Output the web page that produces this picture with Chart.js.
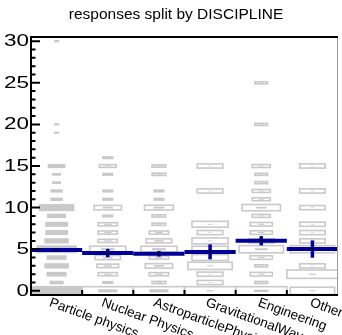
<!DOCTYPE html>
<html><head><meta charset="utf-8">
<script src="https://cdn.jsdelivr.net/npm/chart.js@4/dist/chart.umd.min.js"></script>
<style>html,body{margin:0;padding:0;background:#fff}#c{display:block}</style>
</head><body>
<canvas id="c" width="342" height="335"></canvas>
<script>
// ---- data ----
const disciplines = ["Particle physics", "Nuclear Physics", "AstroparticlePhysics", "GravitationalWaves", "Engineering", "Other"];
// number of responses per answer value 0..30 (index = answer value)
const particlePhysics = [200,12,26,40,26,115,40,34,34,23,87,9,9,4,4,20,0,0,0,1,1,0,0,0,0,0,0,0,0,0,1];
const nuclearPhysics  = [28,1,4,5,7,14,4,4,4,1,8,1,1,0,1,3,1,0,0,0,0,0,0,0,0,0,0,0,0,0,0];
const astroparticle   = [28,2,4,8,4,14,7,4,2,2,9,1,1,0,2,2,0,0,0,0,0,0,0,0,0,0,0,0,0,0,0];
const gravitational   = [4,1,1,3,2,2,2,1,2,0,0,0,1,0,0,1,0,0,0,0,0,0,0,0,0,0,0,0,0,0,0];
const engineering     = [16,1,3,1,3,12,4,3,3,2,9,2,2,1,1,2,0,0,0,0,1,0,0,0,0,1,0,0,0,0,0];
const other           = [3,0,4,1,0,3,1,1,1,0,1,0,1,0,0,1,0,0,0,0,0,0,0,0,0,0,0,0,0,0,0];
const profileMean  = [4.9, 4.54, 4.46, 4.68, 6.02, 5.02];
const profileError = [0.15, 0.5, 0.34, 0.9, 0.56, 1.04];
const yTickValues  = [0, 5, 10, 15, 20, 25, 30];
const chartTitle = "responses split by DISCIPLINE";

const columns = [particlePhysics, nuclearPhysics, astroparticle, gravitational, engineering, other];
const globalMax = Math.max(...columns.map(c => Math.max(...c)));

const GRAY = '#c9c9c9';
const BLUE = '#000099';
const FONT = "'Liberation Sans', Arial, Helvetica, sans-serif";

const boxPlugin = {
  id: 'boxes',
  beforeDatasetsDraw(chart) {
    const {ctx, chartArea: a, scales: {x, y}} = chart;
    const bw = x.width / disciplines.length;
    const bh = Math.abs(y.getPixelForValue(0) - y.getPixelForValue(1));
    ctx.save();
    ctx.beginPath(); ctx.rect(a.left, a.top, a.right - a.left, a.bottom - a.top); ctx.clip();
    columns.forEach((col, c) => {
      const colMax = Math.max(...col);
      const xc = x.getPixelForValue(c);
      col.forEach((n, k) => {
        if (!n) return;
        const yc = y.getPixelForValue(k);
        const fo = Math.sqrt(n / colMax), fi = Math.sqrt(n / globalMax);
        ctx.fillStyle = GRAY;
        ctx.fillRect(xc - fi * bw / 2, yc - fi * bh / 2, fi * bw, fi * bh);
        ctx.strokeStyle = GRAY; ctx.lineWidth = 1.6;
        ctx.strokeRect(xc - fo * bw / 2, yc - fo * bh / 2, fo * bw, fo * bh);
      });
    });
    // profile: mean per discipline with error
    ctx.strokeStyle = BLUE; ctx.lineCap = 'butt';
    profileMean.forEach((m, c) => {
      const xc = x.getPixelForValue(c);
      const ym = y.getPixelForValue(m);
      ctx.lineWidth = 4;
      ctx.beginPath(); ctx.moveTo(xc - bw / 2, ym); ctx.lineTo(xc + bw / 2, ym); ctx.stroke();
      ctx.lineWidth = 3.5;
      ctx.beginPath();
      ctx.moveTo(xc, y.getPixelForValue(m - profileError[c]));
      ctx.lineTo(xc, y.getPixelForValue(m + profileError[c]));
      ctx.stroke();
    });
    ctx.restore();
  },
  afterDraw(chart) {
    const {ctx, chartArea: a, scales: {x, y}} = chart;
    const bw = x.width / disciplines.length;
    ctx.save();
    // frame
    ctx.strokeStyle = '#999'; ctx.lineWidth = 1;
    ctx.beginPath(); ctx.moveTo(a.right - 0.5, a.top); ctx.lineTo(a.right - 0.5, a.bottom); ctx.stroke();
    ctx.strokeStyle = '#000'; ctx.lineWidth = 2;
    ctx.beginPath();
    ctx.moveTo(a.left, a.top); ctx.lineTo(a.right, a.top);
    ctx.moveTo(a.left, a.top - 1); ctx.lineTo(a.left, a.bottom + 1);
    ctx.moveTo(a.left - 1, a.bottom); ctx.lineTo(a.right, a.bottom);
    ctx.stroke();
    // y ticks
    ctx.beginPath();
    for (let v = 0; v <= 30; v++) {
      const py = y.getPixelForValue(v);
      ctx.moveTo(a.left, py); ctx.lineTo(a.left + (v % 5 === 0 ? 9 : 4.5), py);
    }
    // x ticks at bin boundaries
    for (let i = 1; i < disciplines.length; i++) {
      const px = x.getPixelForValue(i) - bw / 2;
      ctx.moveTo(px, a.bottom); ctx.lineTo(px, a.bottom - 5);
    }
    ctx.stroke();
    ctx.fillStyle = '#000';
    // y tick labels (wide glyphs as in the reference)
    ctx.font = '16px ' + FONT;
    ctx.textAlign = 'right'; ctx.textBaseline = 'middle';
    yTickValues.forEach(v => {
      ctx.save();
      ctx.translate(a.left - 2, y.getPixelForValue(v) + 0.5);
      ctx.scale(1.4, 1);
      ctx.fillText(String(v), 0, 0);
      ctx.restore();
    });
    // rotated category labels
    ctx.font = '13.5px ' + FONT;
    ctx.textAlign = 'left'; ctx.textBaseline = 'top';
    disciplines.forEach((lab, i) => {
      const px = x.getPixelForValue(i) - 4.5 + i;
      ctx.save();
      ctx.translate(px, a.bottom + 1);
      ctx.rotate(20 * Math.PI / 180);
      ctx.fillText(lab, 0, 0);
      ctx.restore();
    });
    ctx.restore();
  }
};

new Chart(document.getElementById('c'), {
  type: 'line',
  data: {
    labels: disciplines,
    datasets: [{
      data: profileMean,
      showLine: false,
      pointRadius: 1.3,
      pointBackgroundColor: '#000',
      pointBorderWidth: 0
    }]
  },
  options: {
    responsive: false,
    animation: false,
    devicePixelRatio: 1,
    layout: {padding: {left: 12, right: 2, top: 0, bottom: 0}},
    plugins: {
      legend: {display: false},
      tooltip: {enabled: false},
      title: {
        display: true, text: chartTitle, color: '#000',
        font: {family: FONT, size: 15.5, weight: 'normal'},
        padding: {top: 5, bottom: 13.4}
      }
    },
    scales: {
      x: {
        type: 'category', offset: true,
        grid: {display: false, drawTicks: false},
        border: {display: false},
        ticks: {display: false},
        afterFit: s => { s.height = 40; }
      },
      y: {
        min: -0.5, max: 30.5,
        grid: {display: false, drawTicks: false},
        border: {display: false},
        afterBuildTicks: s => { s.ticks = yTickValues.map(v => ({value: v})); },
        ticks: {display: false},
        afterFit: s => { s.width = 19; }
      }
    }
  },
  plugins: [boxPlugin]
});
</script>
</body></html>
